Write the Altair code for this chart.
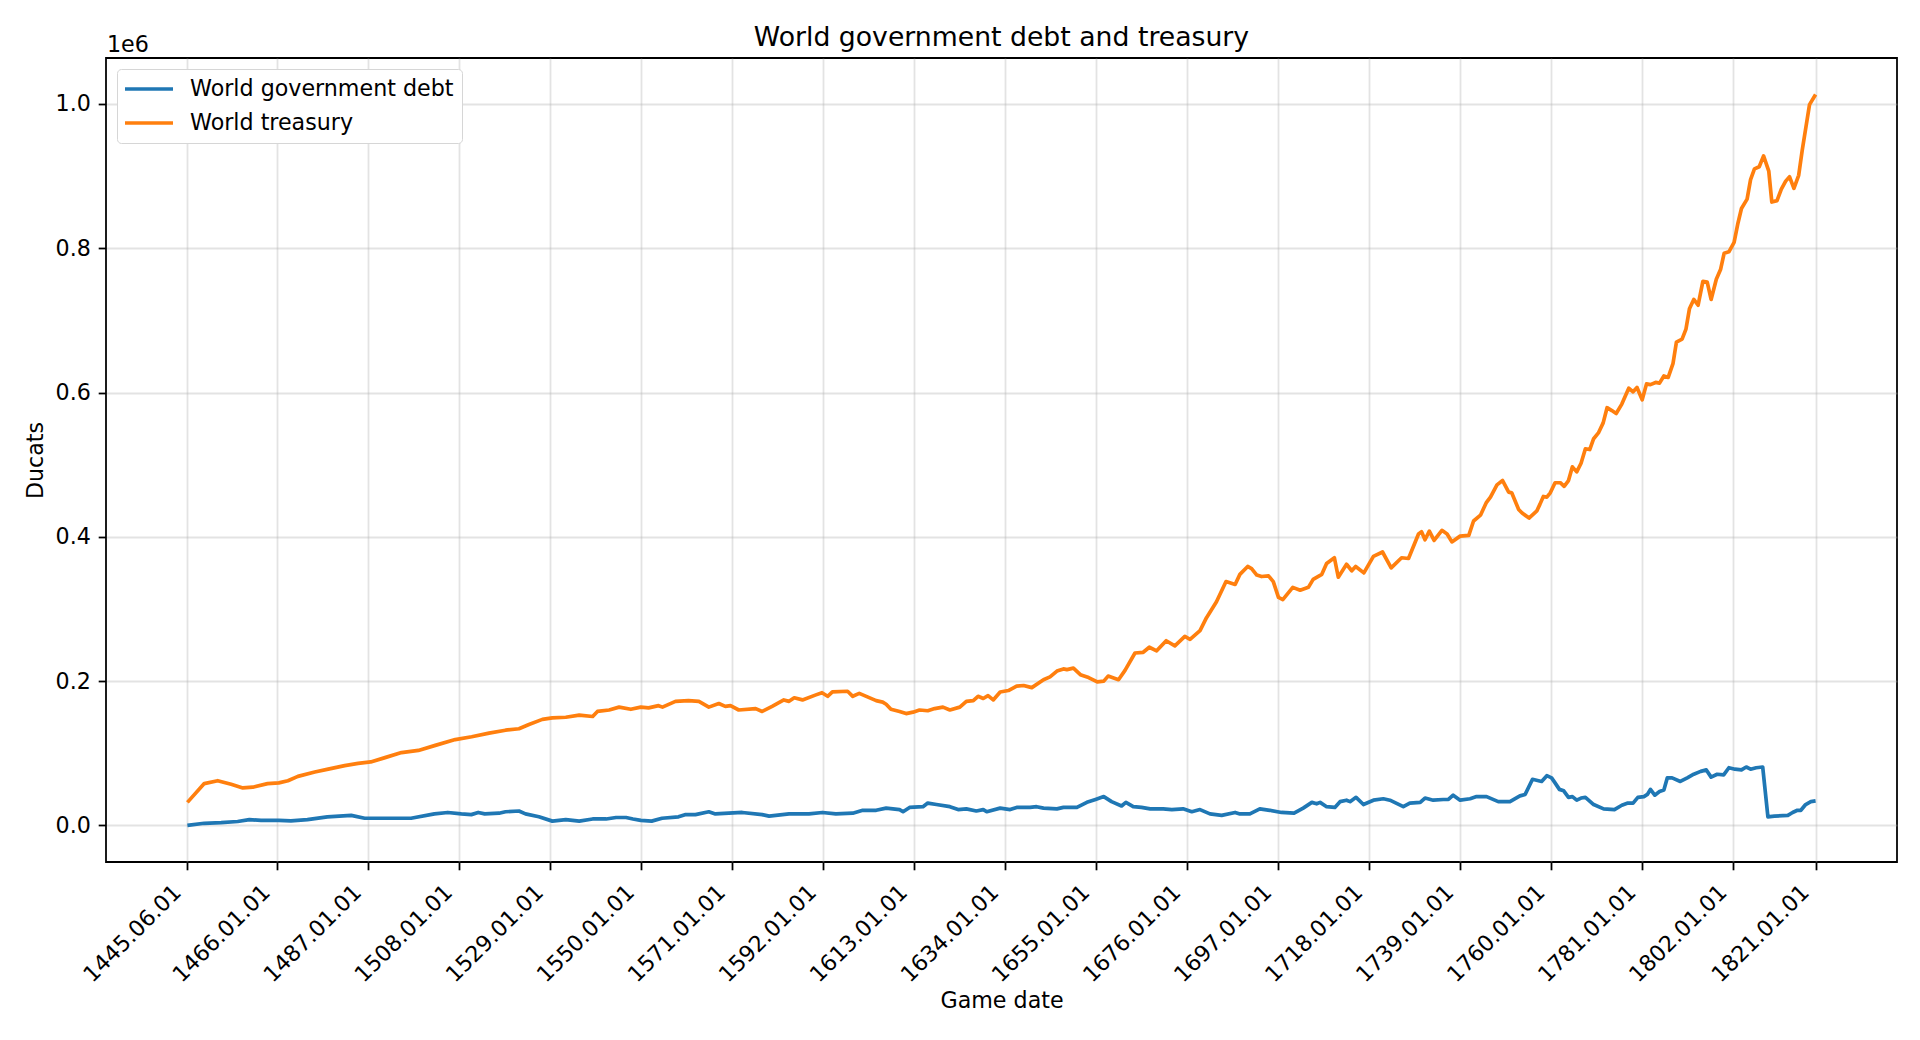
import json

import altair as alt
import pandas as pd

# World treasury, thousands of ducats
treasury_years = [
    1445.417, 1449.3, 1452.4, 1455.5, 1458.2, 1460.5, 1463.9, 1466.5, 1468.6, 1470.9,
    1474.8, 1477.9, 1481.7, 1484.8, 1487.7, 1491.0, 1494.8, 1498.7, 1502.6, 1507.2,
    1511.0, 1515.0, 1518.8, 1521.9, 1524.2, 1527.3, 1529.6, 1532.7, 1535.8, 1538.9,
    1540.0, 1542.7, 1545.0, 1547.7, 1550.0, 1551.8, 1554.1, 1555.0, 1558.0, 1561.0,
    1563.4, 1565.7, 1568.0, 1569.5, 1570.7, 1572.6, 1576.5, 1578.0, 1580.3, 1583.0,
    1584.2, 1585.4, 1587.3, 1590.4, 1591.8, 1593.1, 1594.2, 1597.7, 1598.9, 1600.4,
    1604.3, 1605.8, 1606.6, 1607.7, 1609.7, 1611.2, 1612.8, 1614.3, 1616.2, 1617.8,
    1619.7, 1621.3, 1623.6, 1625.1, 1626.7, 1627.8, 1629.0, 1630.1, 1631.3, 1632.9,
    1634.8, 1636.7, 1638.3, 1640.2, 1642.9, 1644.4, 1646.0, 1647.5, 1648.3, 1649.8,
    1651.4, 1653.3, 1655.3, 1656.8, 1657.8, 1660.2, 1661.7, 1664.0, 1665.9, 1667.3,
    1669.0, 1671.2, 1673.2, 1675.5, 1676.7, 1679.0, 1680.5, 1682.8, 1685.0, 1687.1,
    1688.2, 1690.0, 1690.9, 1692.1, 1693.2, 1694.8, 1695.9, 1697.1, 1698.1, 1700.4,
    1702.1, 1704.0, 1705.1, 1707.1, 1708.2, 1710.0, 1710.9, 1712.8, 1714.0, 1714.9,
    1716.8, 1719.0, 1721.1, 1723.1, 1725.5, 1727.1, 1729.4, 1730.1, 1730.9, 1731.9,
    1733.0, 1734.8, 1736.0, 1737.1, 1739.0, 1741.0, 1742.1, 1743.7, 1745.0, 1746.0,
    1747.5, 1748.8, 1750.2, 1750.9, 1752.5, 1753.3, 1754.9, 1756.7, 1757.4, 1758.2,
    1759.0, 1759.8, 1760.9, 1762.1, 1763.0, 1764.0, 1764.9, 1765.9, 1766.9, 1767.9,
    1768.9, 1769.8, 1770.9, 1772.0, 1772.9, 1774.0, 1775.0, 1776.3, 1777.9, 1778.9,
    1779.8, 1781.0, 1782.0, 1782.9, 1784.1, 1785.0, 1786.0, 1787.0, 1788.1, 1788.9,
    1790.2, 1791.1, 1791.9, 1792.9, 1793.9, 1795.0, 1796.0, 1796.9, 1798.1, 1799.1,
    1799.9, 1801.0, 1802.2, 1803.1, 1803.9, 1805.2, 1806.0, 1806.9, 1808.0, 1809.0,
    1810.2, 1810.9, 1812.1, 1813.1, 1814.1, 1815.0, 1816.0, 1817.1, 1817.9, 1818.8,
    1819.6, 1821.0,
]
treasury_k = [
    32, 58, 62, 57, 52, 53, 58, 59, 62, 68,
    74, 78, 83, 86, 88, 94, 101, 104, 111, 119,
    123, 128, 132, 134, 140, 147, 149, 150, 153, 151,
    158, 160, 164, 161, 164, 163, 166, 164, 172, 173,
    172, 164, 169, 165, 166, 160, 162, 158, 165, 174,
    172, 177, 174, 181, 184, 179, 185, 186, 179, 183,
    173, 171, 168, 161, 158, 155, 157, 160, 159, 162,
    164, 160, 164, 172, 173, 179, 176, 180, 174, 185,
    187, 193, 194, 191, 202, 206, 214, 217, 216, 218,
    209, 205, 199, 200, 207, 202, 215, 239, 240, 247,
    242, 256, 249, 262, 258, 270, 288, 310, 338, 334,
    348, 359, 356, 347, 345, 346, 338, 316, 313, 330,
    326, 330, 341, 348, 363, 371, 344, 362, 353, 359,
    350, 373, 379, 357, 371, 370, 404, 407, 396, 408,
    395, 409, 404, 393, 401, 402, 422, 430, 447, 455,
    472, 478, 462, 461, 438, 433, 426, 436, 445, 456,
    455, 461, 475, 475, 470, 478, 497, 490, 502, 522,
    521, 536, 544, 558, 579, 575, 571, 584, 606, 601,
    607, 590, 612, 611, 614, 613, 623, 621, 640, 670,
    674, 688, 716, 729, 721, 754, 753, 729, 757, 771,
    793, 795, 808, 835, 855, 868, 895, 910, 913, 928,
    907, 864, 866, 882, 893, 899, 883, 901, 935, 969,
    999, 1013,
]

# World government debt, thousands of ducats
debt_years = [
    1445.417, 1449.3, 1453.2, 1457.0, 1459.7, 1462.4, 1466.5, 1469.3, 1473.1, 1477.7,
    1483.2, 1486.3, 1491.7, 1497.0, 1502.4, 1505.5, 1508.6, 1510.9, 1512.5, 1514.0,
    1517.3, 1518.8, 1521.9, 1523.4, 1526.5, 1529.6, 1532.7, 1535.8, 1538.9, 1542.0,
    1544.3, 1546.6, 1548.2, 1550.0, 1552.5, 1554.9, 1558.7, 1560.2, 1562.6, 1565.7,
    1567.2, 1570.3, 1573.4, 1578.0, 1579.6, 1584.2, 1588.8, 1591.9, 1595.0, 1598.9,
    1601.2, 1604.3, 1606.6, 1609.7, 1610.5, 1612.0, 1615.1, 1616.2, 1618.2, 1621.3,
    1623.2, 1625.1, 1627.4, 1629.0, 1629.8, 1632.9, 1635.2, 1636.7, 1639.8, 1641.3,
    1642.9, 1646.0, 1647.5, 1650.6, 1652.9, 1654.9, 1656.8, 1658.6, 1660.9, 1661.9,
    1663.6, 1665.5, 1667.5, 1670.5, 1672.5, 1675.1, 1677.1, 1679.0, 1681.3, 1684.0,
    1687.1, 1688.2, 1690.5, 1692.8, 1695.1, 1697.8, 1700.7, 1702.8, 1704.8, 1705.9,
    1706.7, 1708.2, 1710.1, 1711.3, 1712.8, 1713.6, 1715.0, 1716.7, 1719.0, 1721.3,
    1722.8, 1725.9, 1727.4, 1729.8, 1730.9, 1732.8, 1735.1, 1736.3, 1737.4, 1739.0,
    1741.3, 1742.8, 1745.1, 1747.8, 1750.5, 1752.8, 1754.0, 1755.7, 1757.8, 1759.0,
    1760.1, 1760.9, 1761.9, 1762.9, 1764.0, 1764.9, 1765.9, 1766.9, 1767.9, 1769.8,
    1772.1, 1774.6, 1776.3, 1777.7, 1778.9, 1780.0, 1781.4, 1782.2, 1782.9, 1783.9,
    1785.0, 1786.0, 1786.8, 1787.9, 1789.8, 1791.4, 1792.9, 1794.5, 1795.8, 1796.9,
    1798.3, 1799.8, 1801.0, 1802.4, 1803.9, 1805.0, 1806.0, 1807.3, 1808.8, 1810.0,
    1811.5, 1814.6, 1815.7, 1816.8, 1817.6, 1818.7, 1819.9, 1821.0,
]
debt_k = [
    0, 3, 4, 5.5, 8, 7, 7, 6.4, 8, 12,
    14, 10, 10, 10, 16, 18, 16, 15, 18, 16,
    17, 19, 20, 16, 12, 6, 8, 6, 9, 9,
    11, 11, 9, 7, 6, 10, 12, 15, 15, 19,
    16, 17, 18, 15, 13, 16, 16, 18, 16, 17,
    21, 21, 24, 22, 19, 25, 26, 31, 29, 26,
    22, 23, 20, 22, 19, 24, 22, 25, 25, 26,
    24, 23, 25, 25, 32, 36, 40, 33, 27, 32,
    26, 25, 23, 23, 22, 23, 19, 22, 16, 14,
    18, 16, 16, 23, 21, 18, 17, 24, 32, 30,
    32, 26, 25, 33, 35, 33, 39, 29, 35, 37,
    35, 26, 31, 32, 38, 35, 36, 36, 42, 35,
    37, 40, 40, 33, 33, 41, 43, 64, 61, 69,
    66, 59, 50, 48, 39, 40, 35, 38, 39, 29,
    23, 22, 28, 31, 31, 39, 40, 43, 50, 42,
    47, 49, 66, 66, 61, 66, 71, 75, 77, 67,
    71, 70, 80, 78, 77, 81, 78, 80, 81, 12,
    13, 14, 18, 21, 21, 29, 33, 34,
]

series_names = ["World government debt", "World treasury"]
series_colors = ["#1f77b4", "#ff7f0e"]

tick_years = [1445.417, 1466, 1487, 1508, 1529, 1550, 1571, 1592, 1613, 1634,
              1655, 1676, 1697, 1718, 1739, 1760, 1781, 1802, 1821]
tick_labels = ["1445.06.01", "1466.01.01", "1487.01.01", "1508.01.01", "1529.01.01",
               "1550.01.01", "1571.01.01", "1592.01.01", "1613.01.01", "1634.01.01",
               "1655.01.01", "1676.01.01", "1697.01.01", "1718.01.01", "1739.01.01",
               "1760.01.01", "1781.01.01", "1802.01.01", "1821.01.01"]
y_ticks = [0, 200000, 400000, 600000, 800000, 1000000]

debt = pd.DataFrame({"year": debt_years, "value": [v * 1000 for v in debt_k],
                     "series": series_names[0]})
treasury = pd.DataFrame({"year": treasury_years, "value": [v * 1000 for v in treasury_k],
                         "series": series_names[1]})
data = pd.concat([debt, treasury], ignore_index=True)

# matplotlib-like 5% margins
x_span = tick_years[-1] - tick_years[0]
x_domain = [tick_years[0] - 0.05 * x_span, tick_years[-1] + 0.05 * x_span]
y_max = max(treasury_k) * 1000
y_domain = [-0.05 * y_max, 1.05 * y_max]

x_label_expr = f"{json.dumps(tick_labels)}[indexof({json.dumps(tick_years)}, datum.value)]"

FONT = "DejaVu Sans"
FS = 22.2

lines = alt.Chart(data).mark_line(strokeWidth=3.7, strokeJoin="round").encode(
    x=alt.X("year:Q",
            scale=alt.Scale(domain=x_domain, nice=False, zero=False),
            axis=alt.Axis(values=tick_years, labelExpr=x_label_expr, title="Game date",
                          labelAngle=315, labelAlign="right", labelBaseline="bottom",
                          labelPadding=27, labelOffset=-2, titlePadding=3,
                          labelOverlap=False)),
    y=alt.Y("value:Q",
            scale=alt.Scale(domain=y_domain, nice=False, zero=False),
            axis=alt.Axis(values=y_ticks, labelExpr="format(datum.value / 1e6, '.1f')",
                          title="Ducats", titlePadding=8, labelPadding=7.8)),
    color=alt.Color("series:N",
                    scale=alt.Scale(domain=series_names, range=series_colors),
                    legend=alt.Legend(title=None, orient="none", legendX=11, legendY=11,
                                      symbolType="M-1.2,0H3.6", symbolStrokeWidth=3.7,
                                      symbolSize=400, labelOffset=41, rowPadding=10,
                                      padding=8, fillColor="white", strokeColor="#d6d6d6",
                                      cornerRadius=4, labelFontSize=FS, labelLimit=0,
                                      labelFont=FONT, labelColor="black")),
    order=alt.Order("year:Q"),
)

offset_text = alt.Chart(pd.DataFrame({"t": ["1e6"]})).mark_text(
    align="left", baseline="alphabetic", fontSize=FS, font=FONT, color="black"
).encode(x=alt.value(1), y=alt.value(-6), text="t:N")

chart = alt.layer(lines, offset_text).properties(
    width=1791,
    height=804,
    autosize=alt.AutoSizeParams(type="none"),
    padding={"left": 98, "top": 50, "right": 15, "bottom": 160},
    title=alt.TitleParams("World government debt and treasury", fontSize=26.7,
                          font=FONT, fontWeight="normal", anchor="middle",
                          offset=-18, color="black"),
).configure_axis(
    labelFont=FONT, titleFont=FONT, labelFontSize=FS, titleFontSize=FS,
    labelColor="black", titleColor="black", titleFontWeight="normal",
    tickColor="black", tickWidth=1.78, tickSize=7.8, domain=False,
    gridColor="#b0b0b0", gridOpacity=0.35, gridWidth=1.78,
).configure_view(
    stroke="black", strokeWidth=1.78,
)

chart.save("out.html", embed_options={"renderer": "svg", "actions": False})
